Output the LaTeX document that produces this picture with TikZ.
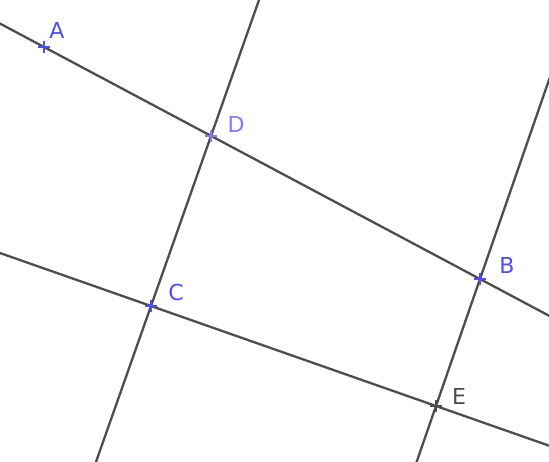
\documentclass[tikz,border=0pt]{standalone}
\usepackage{fontspec}
\setmainfont{DejaVu Sans}
\usetikzlibrary{calc}
\definecolor{ptblue}{HTML}{4D4DFF}
\definecolor{ptlight}{HTML}{7F7FFF}
\definecolor{lgray}{HTML}{4D4D4D}
\tikzset{
  geoline/.style={draw=lgray, line width=2.3pt},
  plusmark/.pic={\draw[line width=2.5pt, pic actions] (-6,0)--(6,0) (0,-6)--(0,6);},
  ptlabel/.style={font=\fontsize{22}{22}\selectfont, inner sep=0pt}
}
\begin{document}
\begin{tikzpicture}[x=1pt,y=-1pt]
\useasboundingbox (0,0) rectangle (549,461);
\coordinate (A) at (44,47);
\coordinate (D) at (211,136);
\coordinate (C) at (151,306);
\coordinate (B) at (480,279);
\coordinate (E) at (436,406);
\begin{scope}
\clip (0,0) rectangle (549,461);
\draw[geoline] ($(A)!-3!(B)$) -- ($(B)!-3!(A)$);
\draw[geoline] ($(D)!-3!(C)$) -- ($(C)!-3!(D)$);
\draw[geoline] ($(C)!-3!(E)$) -- ($(E)!-3!(C)$);
\draw[geoline] ($(B)!-3!(E)$) -- ($(E)!-3!(B)$);
\end{scope}
\pic[draw=ptblue] at (A) {plusmark};
\pic[draw=ptlight] at (D) {plusmark};
\pic[draw=ptblue] at (C) {plusmark};
\pic[draw=ptblue] at (B) {plusmark};
\pic[draw=lgray] at (E) {plusmark};
\node[ptlabel, text=ptblue] (lA) at (57,30) {A};
\node[ptlabel, text=ptlight] (lD) at (236,124) {D};
\node[ptlabel, text=ptblue] (lC) at (176,292) {C};
\node[ptlabel, text=ptblue] (lB) at (507,265) {B};
\node[ptlabel, text=lgray] (lE) at (459,396) {E};
\end{tikzpicture}
\end{document}
